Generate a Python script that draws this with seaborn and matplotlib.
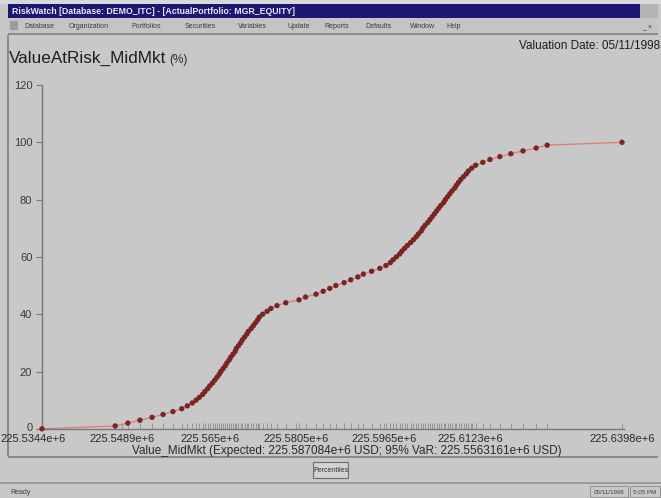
import matplotlib
matplotlib.use("Agg")
import matplotlib.pyplot as plt
import matplotlib.transforms as mtransforms
from matplotlib.patches import Rectangle
import seaborn as sns

# Cumulative distribution of simulated portfolio value (in millions USD)
percent = list(range(0, 101))
value_musd = [
    225.5344, 225.5477, 225.5500, 225.5522, 225.5544, 225.5564, 225.5582, 225.5598,
    225.5608, 225.5617, 225.5624, 225.5630, 225.5636, 225.5640, 225.5645, 225.5649,
    225.5654, 225.5658, 225.5662, 225.5666, 225.5669, 225.5673, 225.5677, 225.5680,
    225.5684, 225.5687, 225.5691, 225.5695, 225.5697, 225.5701, 225.5705, 225.5708,
    225.5712, 225.5716, 225.5719, 225.5724, 225.5728, 225.5732, 225.5736, 225.5739,
    225.5745, 225.5753, 225.5760, 225.5771, 225.5787, 225.5811, 225.5823, 225.5842,
    225.5855, 225.5867, 225.5878, 225.5893, 225.5905, 225.5918, 225.5928, 225.5943,
    225.5958, 225.5969, 225.5977, 225.5982, 225.5988, 225.5994, 225.5998, 225.6003,
    225.6008, 225.6014, 225.6019, 225.6024, 225.6028, 225.6033, 225.6036, 225.6040,
    225.6045, 225.6049, 225.6053, 225.6057, 225.6061, 225.6065, 225.6069, 225.6074,
    225.6077, 225.6081, 225.6085, 225.6089, 225.6094, 225.6097, 225.6101, 225.6105,
    225.6110, 225.6115, 225.6119, 225.6125, 225.6132, 225.6145, 225.6158, 225.6176,
    225.6196, 225.6218, 225.6242, 225.6262, 225.6398,
]
x_tick_values = [225.5344, 225.5489, 225.565, 225.5805, 225.5965, 225.6123, 225.6398]
x_tick_labels = ["225.5344e+6", "225.5489e+6", "225.565e+6", "225.5805e+6",
                 "225.5965e+6", "225.6123e+6", "225.6398e+6"]
y_ticks = [0, 20, 40, 60, 80, 100, 120]

title_text = "ValueAtRisk_MidMkt"
unit_text = "(%)"
date_text = "Valuation Date: 05/11/1998"
x_label = "Value_MidMkt (Expected: 225.587084e+6 USD; 95% VaR: 225.5563161e+6 USD)"
window_title = "RiskWatch [Database: DEMO_ITC] - [ActualPortfolio: MGR_EQUITY]"
menu_items = ["Database", "Organization", "Portfolios", "Securities", "Variables",
              "Update", "Reports", "Defaults", "Window", "Help"]

sns.set_theme(style="white")
plt.rcParams["font.family"] = ["Liberation Sans Narrow", "Liberation Sans", "DejaVu Sans"]

W, H = 661, 498
BG = "#c8c8c8"
fig = plt.figure(figsize=(W / 100, H / 100), dpi=100, facecolor=BG)


def fx(px):
    return px / W


def fy(py):
    return 1 - py / H


def rect(x0, y0, x1, y1, **kw):
    kw.setdefault("zorder", -1)
    fig.patches.append(Rectangle((fx(x0), fy(y1)), fx(x1) - fx(x0), fy(y0) - fy(y1),
                                 transform=fig.transFigure, **kw))


# window chrome
rect(0, 0, W, 4, facecolor="#d8d8d8", edgecolor="none")
rect(8, 4, 640, 18, facecolor="#1c1872", edgecolor="none")
rect(640, 4, 658, 18, facecolor="#b4b4b4", edgecolor="none")
fig.text(fx(12), fy(11), window_title, color="#e8e8f4", fontsize=6.3, va="center",
         fontweight="bold")
rect(8, 19, 658, 33, facecolor="#c4c4c4", edgecolor="none")
rect(10, 21, 18, 30, facecolor="#9c9c9c", edgecolor="none")
mx = 24
for item in menu_items:
    fig.text(fx(mx), fy(26.5), item, color="#3a3a3a", fontsize=5, va="center")
    mx += len(item) * 4.2 + 11.5
fig.text(fx(642), fy(26.5), "_ \u00d7", color="#3a3a3a", fontsize=5, va="center")
rect(8, 33.5, 658, 35, facecolor="#8a8a8a", edgecolor="none")
rect(7, 35, 9, 456, facecolor="#8a8a8a", edgecolor="none")
rect(8, 456, 658, 457.5, facecolor="#8a8a8a", edgecolor="none")
rect(0, 482, W, 483.5, facecolor="#9a9a9a", edgecolor="none")

# button and status bar
rect(313, 462, 348, 478, facecolor="#d2d2d2", edgecolor="#6e6e6e", linewidth=0.8)
fig.text(fx(330.5), fy(470), "Percentiles", color="#303030", fontsize=5,
         ha="center", va="center")
fig.text(fx(10), fy(492), "Ready", color="#404040", fontsize=5, va="center")
rect(590, 486, 628, 497, facecolor="none", edgecolor="#8a8a8a", linewidth=0.6)
rect(630, 486, 660, 497, facecolor="none", edgecolor="#8a8a8a", linewidth=0.6)
fig.text(fx(609), fy(492), "05/11/1998", color="#404040", fontsize=4.5,
         ha="center", va="center")
fig.text(fx(645), fy(492), "5:05 PM", color="#404040", fontsize=4.5,
         ha="center", va="center")

# chart heading
fig.text(fx(9), fy(58), title_text, color="#1e1e1e", fontsize=12.3, va="center")
fig.text(fx(169), fy(60), unit_text, color="#2a2a2a", fontsize=8.5, va="center")
fig.text(fx(660), fy(46), date_text, color="#1e1e1e", fontsize=8.5,
         ha="right", va="center")

# plot area
ax_l, ax_r, ax_t, ax_b = 42, 622, 85, 428.8
ax = fig.add_axes([fx(ax_l), fy(ax_b), fx(ax_r) - fx(ax_l), fy(ax_t) - fy(ax_b)])
ax.set_facecolor(BG)

sns.lineplot(x=value_musd, y=percent, ax=ax, color="#e07a78", linewidth=0.9,
             estimator=None, sort=False, clip_on=False)
sns.scatterplot(x=value_musd, y=percent, ax=ax, color="#7a2424", s=15,
                edgecolor="none", linewidth=0, clip_on=False, zorder=5)

ax.set_xlim(x_tick_values[0], x_tick_values[-1])
ax.set_ylim(0, 120)
for side in ("top", "right"):
    ax.spines[side].set_visible(False)
for side in ("left", "bottom"):
    ax.spines[side].set_color("#787878")
    ax.spines[side].set_linewidth(1.0)
ax.spines["bottom"].set_bounds(x_tick_values[0], x_tick_values[-1] + 0.0003)

ax.set_yticks(y_ticks)
ax.set_yticklabels([str(v) for v in y_ticks])
ax.set_xticks(x_tick_values)
ax.set_xticklabels(x_tick_labels)
ax.set_xticks(value_musd, minor=True)
ax.tick_params(axis="y", direction="out", length=4, width=0.8, color="#787878",
               labelsize=8, labelcolor="#3a3a3a", pad=3, left=True)
ax.tick_params(axis="x", which="both", direction="in", length=4, width=0.6,
               color="#8a8a8a", labelsize=8, labelcolor="#2a2a2a", pad=3.5,
               bottom=True)

# nudge the zero label up and the first value label left so they sit clear
zero_lbl = ax.get_yticklabels()[0]
zero_lbl.set_transform(zero_lbl.get_transform() +
                       mtransforms.ScaledTranslation(0, 2 / 100, fig.dpi_scale_trans))
first_lbl = ax.get_xticklabels()[0]
first_lbl.set_transform(first_lbl.get_transform() +
                        mtransforms.ScaledTranslation(-9 / 100, 0, fig.dpi_scale_trans))

ax.set_xlabel(x_label, fontsize=8.5, color="#2a2a2a")
ax.xaxis.set_label_coords(0.526, -0.047)
ax.set_ylabel("")
ax.grid(False)

fig.savefig("out.png", dpi=100, facecolor=BG)
